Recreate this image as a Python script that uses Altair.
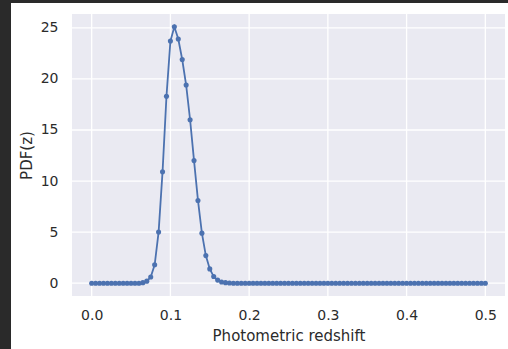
import altair as alt
import numpy as np
import pandas as pd

# data
redshift = np.round(np.arange(101) * 0.005, 3)
pdf_vals = ([0.0] * 13 +
            [0.05, 0.2, 0.6, 1.8, 5.0, 10.9, 18.3, 23.7, 25.1, 23.9, 21.9, 19.4,
             16.0, 12.0, 8.1, 4.9, 2.7, 1.4, 0.65, 0.3, 0.12, 0.05, 0.02] +
            [0.0] * 65)
x_ticks = [0.0, 0.1, 0.2, 0.3, 0.4, 0.5]
y_ticks = [0, 5, 10, 15, 20, 25]

df = pd.DataFrame({"z": redshift, "pdf": pdf_vals})
xt = pd.DataFrame({"t": x_ticks})
yt = pd.DataFrame({"t": y_ticks})

W, H = 433, 282
xs = alt.Scale(domain=[-0.025, 0.525], nice=False, zero=False)
ys = alt.Scale(domain=[-1.255, 26.355], nice=False, zero=False)
TXT = "#2b2b2b"

fig_bg = alt.Chart(df).mark_rect(color="white").encode(
    x=alt.value(-61), x2=alt.value(W + 3), y=alt.value(-11), y2=alt.value(H + 53))
plot_bg = alt.Chart(df).mark_rect(color="#EAEAF2").encode(
    x=alt.value(0), x2=alt.value(W), y=alt.value(0), y2=alt.value(H))

vgrid = alt.Chart(xt).mark_rule(color="white", strokeWidth=1.3).encode(
    x=alt.X("t:Q", scale=xs,
            axis=alt.Axis(values=x_ticks, format=".1f", title="Photometric redshift",
                          grid=False, domain=False, ticks=False, labelPadding=12,
                          titlePadding=6, zindex=1)))
hgrid = alt.Chart(yt).mark_rule(color="white", strokeWidth=1.3).encode(
    y=alt.Y("t:Q", scale=ys,
            axis=alt.Axis(values=y_ticks, format="d", title="PDF(z)",
                          grid=False, domain=False, ticks=False, labelPadding=14,
                          titlePadding=6, zindex=1)))

line = alt.Chart(df).mark_line(color="#4C72B0", strokeWidth=1.8).encode(
    x=alt.X("z:Q", scale=xs), y=alt.Y("pdf:Q", scale=ys))
pts = alt.Chart(df).mark_circle(color="#4C72B0", size=26, opacity=1).encode(
    x=alt.X("z:Q", scale=xs), y=alt.Y("pdf:Q", scale=ys))

chart = alt.layer(fig_bg, plot_bg, vgrid, hgrid, line, pts).properties(
    width=W, height=H,
    autosize=alt.AutoSizeParams(type="none"),
    padding={"left": 72, "top": 14, "right": 3, "bottom": 53},
    background="#2a2a2a",
).configure_view(stroke=None, fill=None).configure_axis(
    labelFont="DejaVu Sans", titleFont="DejaVu Sans", labelColor=TXT, titleColor=TXT,
    labelFontSize=14, titleFontSize=15, titleFontWeight="normal")

chart.save("out.html", embed_options={"renderer": "svg", "actions": False})
